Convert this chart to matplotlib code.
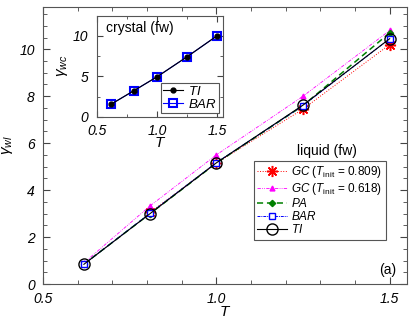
import numpy as np
import matplotlib
matplotlib.use('Agg')
import matplotlib.pyplot as plt
from matplotlib.ticker import MultipleLocator

plt.rcParams['font.family'] = 'Liberation Sans'
plt.rcParams['mathtext.fontset'] = 'custom'
plt.rcParams['mathtext.it'] = 'Liberation Sans:italic'
plt.rcParams['mathtext.rm'] = 'Liberation Sans'

# liquid (fw) data
T_all = [0.618, 0.809, 1.0, 1.25, 1.5]
T_gc809 = [0.809, 1.0, 1.25, 1.5]
gc809 = [3.05, 5.15, 7.45, 10.2]
gc618 = [0.9, 3.33, 5.5, 8.0, 10.8]
pa = [0.85, 3.0, 5.15, 7.6, 10.7]
bar = [0.84, 3.02, 5.17, 7.6, 10.45]
ti = [0.84, 3.0, 5.16, 7.62, 10.45]

# crystal (fw) inset data
ti_c = [1.54, 3.23, 4.94, 7.43, 10.04]
bar_c = [1.54, 3.23, 4.94, 7.43, 10.04]

fig = plt.figure(figsize=(4.15, 3.19), dpi=100)
ax = fig.add_axes([0.1036, 0.1097, 0.8771, 0.8683])

ax.plot(T_gc809, gc809, color='red', ls=':', lw=0.7, marker=(8, 2, 0), ms=8, mew=1.1,
        label=r'$GC$ ($T_{\mathrm{init}}$ = 0.809)')
ax.plot(T_all, gc618, color='magenta', ls=(0, (4, 1.5, 1, 1.5, 1, 1.5)), lw=0.6, marker='^', ms=3.5,
        label=r'$GC$ ($T_{\mathrm{init}}$ = 0.618)')
ax.plot(T_all, pa, color='green', ls=(0, (4, 2.5)), lw=1.1, marker='D', ms=3.2,
        label=r'$PA$')
ax.plot(T_all, bar, color='blue', ls=(0, (3, 1, 1, 1)), lw=0.7, marker='s', ms=3.8, mfc='white', mew=1,
        label=r'$BAR$')
ax.plot(T_all, ti, color='black', ls='-', lw=0.8, marker='o', ms=8, mfc='none', mew=1,
        label=r'$TI$')

ax.set_xlim(0.5, 1.55)
ax.set_ylim(0, 11.8)
ax.xaxis.set_major_locator(MultipleLocator(0.5))
ax.xaxis.set_minor_locator(MultipleLocator(0.1))
ax.yaxis.set_major_locator(MultipleLocator(2))
ax.yaxis.set_minor_locator(MultipleLocator(0.5))
ax.tick_params(which='both', direction='in', top=True, right=True, labelsize=10, color='#444444')
ax.tick_params(which='major', length=5)
ax.tick_params(which='minor', length=3)
ax.tick_params(axis='x', pad=6)
ax.tick_params(axis='y', pad=6)
for lab in ax.get_yticklabels():
    lab.set_style('italic')
ax.set_xticks([0.5, 1.0, 1.5])
ax.set_xticklabels(['0.5', '1.0', '1.5'], style='italic')
for s in ax.spines.values():
    s.set_color('#555555')
ax.set_xlabel(r'$T$', fontsize=11, labelpad=-1)
ax.set_ylabel(r'$\gamma_{wl}$', fontsize=11, labelpad=3)

leg = ax.legend(loc='lower right', bbox_to_anchor=(0.942, 0.159), fontsize=8.5, handlelength=2.5,
                handletextpad=0.4, labelspacing=0.02, borderpad=0.3, borderaxespad=0,
                fancybox=False, edgecolor='#555555', framealpha=1)
leg.get_frame().set_linewidth(0.8)
ax.text(0.78, 0.48, 'liquid (fw)', transform=ax.transAxes, fontsize=10, ha='center', va='center')
ax.text(0.97, 0.05, '(a)', transform=ax.transAxes, fontsize=10, ha='right', va='center')

# inset
ins = fig.add_axes([0.233, 0.634, 0.304, 0.317])
ins.plot(T_all, bar_c, color='blue', ls='-', lw=0.8, marker='s', ms=5.5, mfc='none', mew=1.5,
         label=r'$BAR$', zorder=2)
ins.plot(T_all, ti_c, color='black', ls='-', lw=0.8, marker='o', ms=3.5,
         label=r'$TI$', zorder=3)
ins.set_xlim(0.5, 1.545)
ins.set_ylim(0, 12.5)
ins.set_xticks([0.5, 1.0, 1.5])
ins.set_xticklabels(['0.5', '1.0', '1.5'], style='italic')
ins.xaxis.set_minor_locator(MultipleLocator(0.25))
ins.yaxis.set_major_locator(MultipleLocator(5))
ins.yaxis.set_minor_locator(MultipleLocator(2.5))
ins.tick_params(which='both', direction='in', top=True, right=True, labelsize=10, color='#444444')
ins.tick_params(which='major', length=4)
ins.tick_params(which='minor', length=2.5)
ins.tick_params(axis='y', pad=6)
ins.tick_params(axis='x', pad=5)
for lab in ins.get_yticklabels():
    lab.set_style('italic')
for s in ins.spines.values():
    s.set_color('#555555')
ins.set_xlabel(r'$T$', fontsize=11, labelpad=-1)
ins.set_ylabel(r'$\gamma_{wc}$', fontsize=11, labelpad=2)
h, l = ins.get_legend_handles_labels()
ileg = ins.legend(h[::-1], l[::-1], loc='lower right', fontsize=9.5, handlelength=1.5,
                  handletextpad=0.4, labelspacing=0.0, borderpad=0.15, borderaxespad=0.3,
                  fancybox=False, edgecolor='#555555', framealpha=1)
ileg.get_frame().set_linewidth(0.8)
ins.text(0.07, 0.88, 'crystal (fw)', transform=ins.transAxes, fontsize=10, ha='left', va='center')

fig.savefig('out.png', dpi=100)
